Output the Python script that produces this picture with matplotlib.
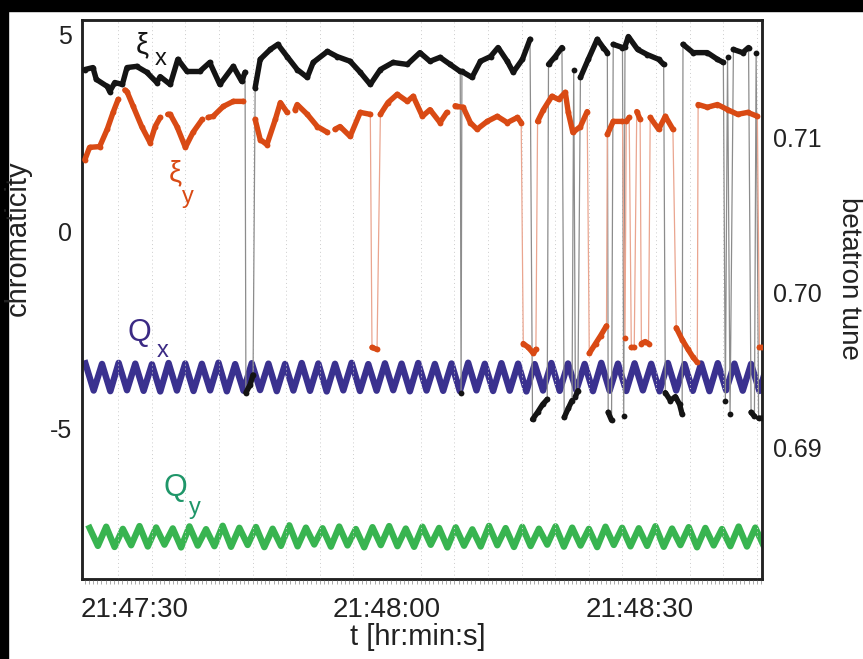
import numpy as np
import matplotlib
matplotlib.use('Agg')
import matplotlib.pyplot as plt
from matplotlib.patches import Rectangle
from matplotlib.ticker import FuncFormatter, MultipleLocator

plt.rcParams['font.family'] = ['Liberation Sans', 'DejaVu Sans']

# time in seconds after 21:47:00
xi_x_t = [24.05, 25.0, 25.4, 26.7, 27.0, 27.6, 28.5, 29.05, 30.2, 31.4, 32.6, 33.0,
          34.2, 35.1, 36.2, 37.7, 38.9, 40.1, 41.7, 42.7, 43.1, 43.2, 43.7, 44.05,
          44.3, 44.9, 46.1, 47.0, 48.1, 49.3, 50.5, 51.2, 52.9, 54.05, 55.6, 56.8,
          58.0, 59.2, 60.7, 62.4, 63.9, 65.1, 66.3, 67.5, 68.7, 68.8, 68.9, 70.1,
          71.1, 72.3, 73.2, 74.3, 75.0, 76.1, 77.0, 77.3, 77.9, 78.5, 79.05, 79.2,
          80.0, 80.8, 81.07, 81.55, 82.0, 82.2, 82.4, 82.7, 83.0, 83.93, 85.0, 85.7,
          86.2, 86.3, 86.7, 86.9, 88.0, 88.15, 88.3, 88.7, 89.8, 90.95, 92.3, 92.9,
          93.1, 93.7, 94.3, 94.8, 95.1, 95.2, 96.4, 98.1, 99.3, 100.0, 100.24, 100.5,
          100.8, 101.2, 102.3, 103.0, 103.3, 103.7, 103.9, 104.2, 104.6]
xi_x = [4.12, 4.17, 3.87, 3.69, 3.56, 3.79, 3.74, 4.17, 4.2, 4.05, 3.79, 3.94,
        3.74, 4.38, 4.07, 4.07, 4.3, 3.74, 4.2, 3.82, 4.05, -4.1, -3.9, -3.65,
        3.66, 4.38, 4.63, 4.76, 4.45, 4.12, 3.92, 4.3, 4.58, 4.45, 4.33, 4.05,
        3.74, 4.12, 4.3, 4.25, 4.55, 4.33, 4.43, 4.25, 4.07, -4.1, 4.07, 3.92,
        4.33, 4.45, 4.68, 4.33, 4.05, 4.38, 4.89, -4.78, -4.6, -4.4, -4.27, 4.25,
        4.45, 4.68, -4.73, -4.5, -4.3, 4.12, -4.2, -4.05, 3.92, 4.38, 4.89, 4.68,
        4.55, -4.6, -4.8, 4.76, 4.68, -4.7, 4.7, 4.96, 4.63, 4.5, 4.38, 4.25,
        -4.1, -4.3, -4.2, -4.4, -4.65, 4.76, 4.55, 4.55, 4.38, 4.3, -4.3, 4.45,
        -4.65, 4.63, 4.55, 4.68, -4.6, -4.7, 4.55, -4.75, -4.75]

nan = np.nan
xi_y_t = [24.05, 24.6, 25.8, 26.7, 27.4, 28.0, 28.3, 28.8, 29.05, 29.8, 30.8, 31.8,
          32.4, 33.0, 33.5, 33.9, 34.2, 35.0, 36.0, 36.9, 38.0, 38.3, 38.7, 39.3,
          40.5, 41.7, 42.9, 43.6, 44.3, 44.9, 45.7, 46.7, 47.3, 48.1, 48.6, 49.05,
          49.3, 50.5, 51.7, 52.9, 53.3, 53.8, 54.4, 55.6, 56.8, 58.0, 58.2, 58.8,
          59.2, 60.1, 61.2, 62.4, 63.1, 64.2, 65.1, 66.3, 67.1, 67.6, 68.1, 68.3,
          69.05, 69.9, 70.7, 71.9, 73.1, 74.3, 75.5, 75.95, 76.2, 76.8, 77.4, 77.7,
          77.9, 78.6, 79.6, 80.4, 81.2, 81.55, 82.1, 83.0, 83.8, 84.05, 84.8, 85.4,
          86.1, 86.2, 86.9, 88.0, 88.3, 88.45, 88.8, 89.05, 89.4, 89.7, 90.1, 90.25,
          90.7, 91.1, 91.3, 92.3, 93.1, 94.0, 94.4, 95.1, 95.8, 96.4, 96.9, 97.0,
          98.1, 99.3, 100.5, 101.7, 102.9, 104.05, 104.3, 104.6]
xi_y = [1.83, 2.14, 2.16, 2.6, 3.03, 3.36, nan, 3.6, 3.56, 3.18, 2.67, 2.26,
        2.67, 2.9, nan, 2.98, 2.98, 2.67, 2.14, 2.52, 2.85, nan, 2.9, 2.93,
        3.18, 3.31, 3.31, nan, 2.85, 2.34, 2.21, 2.85, 3.28, 3.03, nan, 3.1,
        3.23, 2.98, 2.67, 2.52, nan, 2.6, 2.67, 2.42, 3.03, 2.98, -2.95, -3.0,
        2.98, 3.28, 3.49, 3.31, 3.44, 2.93, 3.1, 2.77, 3.03, nan, 3.2, 3.18,
        3.16, 2.77, 2.6, 2.8, 2.93, 2.77, 2.9, 2.77, -2.85, -2.95, -3.1, -3.0,
        2.8, 3.1, 3.44, 3.36, 3.54, 3.03, 2.52, 2.67, 3.05, -3.1, -2.85, -2.65,
        -2.4, 2.47, 2.8, 2.8, -2.7, 2.8, 2.9, -2.95, -2.95, 3.05, 2.85, -2.85,
        -2.8, -2.85, 2.9, 2.6, 2.93, 2.6, -2.45, -2.75, -3.0, -3.2, -3.33, 3.23,
        3.16, 3.23, 3.1, 2.98, 3.03, 2.93, -2.95, -2.95]

# betatron tunes, turning points of the oscillation (units of 1e-5)
qx_t0, qx_dt = 24.1, 0.99
qx_e5 = [542, 366, 538, 362, 545, 368, 540, 364, 536, 360, 544, 366, 541, 363,
         539, 367, 546, 361, 537, 365, 543, 369, 540, 362, 538, 366, 544, 364,
         541, 360, 539, 367, 545, 363, 537, 365, 542, 368, 540, 361, 544, 366,
         538, 364, 541, 362, 546, 367, 539, 363, 543, 365, 540, 360, 537, 366,
         544, 364, 541, 368, 538, 362, 545, 365, 540, 363, 542, 367, 539, 361,
         544, 366, 537, 364, 541, 362, 543, 368, 540, 365, 538, 363, 544, 366]
qy_t0, qy_dt = 24.6, 0.99
qy_e5 = [478, 362, 486, 355, 472, 366, 490, 358, 481, 370, 475, 352, 488, 364,
         470, 360, 492, 356, 479, 368, 484, 354, 473, 362, 495, 359, 480, 371,
         476, 357, 487, 365, 471, 353, 483, 367, 490, 360, 474, 356, 486, 369,
         478, 352, 482, 363, 469, 358, 491, 366, 477, 355, 485, 361, 473, 370,
         488, 357, 480, 364, 472, 354, 486, 368, 479, 359, 476, 362, 489, 356,
         474, 367, 483, 353, 478, 365, 471, 360, 487, 358, 480, 363, 476, 357]

x_ticks = [30, 60, 90]
x_tick_labels = ['21:47:30', '21:48:00', '21:48:30']


def split_jumps(t, v, jump=3.0):
    # break the thick trace where it jumps between normal and dropout values
    out_t, out_v = [t[0]], [v[0]]
    for i in range(1, len(t)):
        if abs(v[i] - v[i - 1]) > jump:
            out_t.append(np.nan)
            out_v.append(np.nan)
        out_t.append(t[i])
        out_v.append(v[i])
    return np.array(out_t), np.array(out_v)


fig = plt.figure(figsize=(8.63, 6.59), dpi=100)
ax = fig.add_axes([82/863, 1-579/659, 680/863, 559/659])
ax2 = ax.twinx()
ax.set_zorder(ax2.get_zorder() + 1)
ax.patch.set_visible(False)

# tunes on right axis
qx_tt = qx_t0 + qx_dt*np.arange(len(qx_e5))
qy_tt = qy_t0 + qy_dt*np.arange(len(qy_e5))
ax2.plot(qx_tt, 0.69 + np.array(qx_e5)*1e-5, color='#3a318f', lw=4.6,
         solid_joinstyle='round')
ax2.plot(qy_tt, 0.68 + np.array(qy_e5)*1e-5, color='#38b450', lw=4.6,
         solid_joinstyle='round')
ax2.set_ylim(0.68148, 0.71761)
ax2.set_yticks([0.69, 0.70, 0.71])
ax2.yaxis.set_major_formatter(FuncFormatter(lambda v, p: '%.2f' % v))
ax2.tick_params(axis='y', length=0, pad=8, labelsize=18, labelcolor='#222222')

# chromaticity on left axis
ax.plot(xi_x_t, xi_x, color='#8c8c8c', lw=0.9, zorder=2)
ax.plot(xi_y_t, xi_y, color='#eaa58f', lw=0.9, zorder=2)
tx, vx = split_jumps(xi_x_t, xi_x)
ty, vy = split_jumps(xi_y_t, xi_y)
ax.plot(tx, vx, color='#141414', lw=3.9, marker='o', ms=4.2, mew=0,
        solid_joinstyle='round', solid_capstyle='round', zorder=3)
ax.plot(ty, vy, color='#d94a14', lw=3.9, marker='o', ms=4.2, mew=0,
        solid_joinstyle='round', solid_capstyle='round', zorder=3)

ax.set_xlim(23.7, 104.6)
ax.set_ylim(-8.84, 5.38)
ax.set_yticks([-5, 0, 5])
ax.set_yticklabels(['-5', '0', '5'])
ax.set_xticks(x_ticks)
ax.set_xticklabels(x_tick_labels)
ax.set_xticks(np.arange(28, 105, 4), minor=True)
ax.grid(which='minor', axis='x', ls=(0, (1, 3)), color='#cccccc', lw=0.7)
ax.tick_params(axis='both', which='major', length=0, labelsize=18,
               labelcolor='#222222')
ax.tick_params(axis='y', pad=7)
ax.tick_params(axis='x', which='major', pad=13, labelsize=20)
ax.tick_params(axis='x', which='minor', length=0)

sec = ax.secondary_xaxis('bottom')
sec.set_xticks([])
sec.xaxis.set_minor_locator(MultipleLocator(0.5))
sec.tick_params(which='minor', direction='out', length=3.5, width=0.7,
                color='#aaaaaa')
sec.spines['bottom'].set_visible(False)

for a in (ax, ax2):
    for s in a.spines.values():
        s.set_linewidth(1.8)
        s.set_color('#222222')

# curve labels
ax.text(0.088, 0.955, 'ξ', transform=ax.transAxes, fontsize=21, color='#141414',
        ha='center', va='center')
ax.text(0.115, 0.93, 'x', transform=ax.transAxes, fontsize=17, color='#141414',
        ha='center', va='center')
ax.text(0.137, 0.726, 'ξ', transform=ax.transAxes, fontsize=21, color='#d94a14',
        ha='center', va='center')
ax.text(0.156, 0.683, 'y', transform=ax.transAxes, fontsize=17, color='#d94a14',
        ha='center', va='center')
ax.text(0.085, 0.44, 'Q', transform=ax.transAxes, fontsize=22, color='#3b2a84',
        ha='center', va='center')
ax.text(0.119, 0.408, 'x', transform=ax.transAxes, fontsize=17, color='#3b2a84',
        ha='center', va='center')
ax.text(0.137, 0.163, 'Q', transform=ax.transAxes, fontsize=22, color='#1f9669',
        ha='center', va='center')
ax.text(0.166, 0.127, 'y', transform=ax.transAxes, fontsize=17, color='#1f9669',
        ha='center', va='center')

fig.text(18/863, 1-238/659, 'chromaticity', rotation=90, ha='center',
         va='center', fontsize=21, color='#222222')
fig.text(849/863, 1-278/659, 'betatron tune', rotation=270, ha='center',
         va='center', fontsize=20, color='#222222')
fig.text(418/863, 1-637/659, 't [hr:min:s]', ha='center', va='center',
         fontsize=21, color='#222222')

# black strips along the top and left edge of the scan
fig.patches.append(Rectangle((0, 1-11/659), 1, 11/659, transform=fig.transFigure,
                             color='black', zorder=0))
fig.patches.append(Rectangle((0, 0), 8/863, 1, transform=fig.transFigure,
                             color='black', zorder=0))

fig.savefig('out.png', dpi=100, facecolor='white')
